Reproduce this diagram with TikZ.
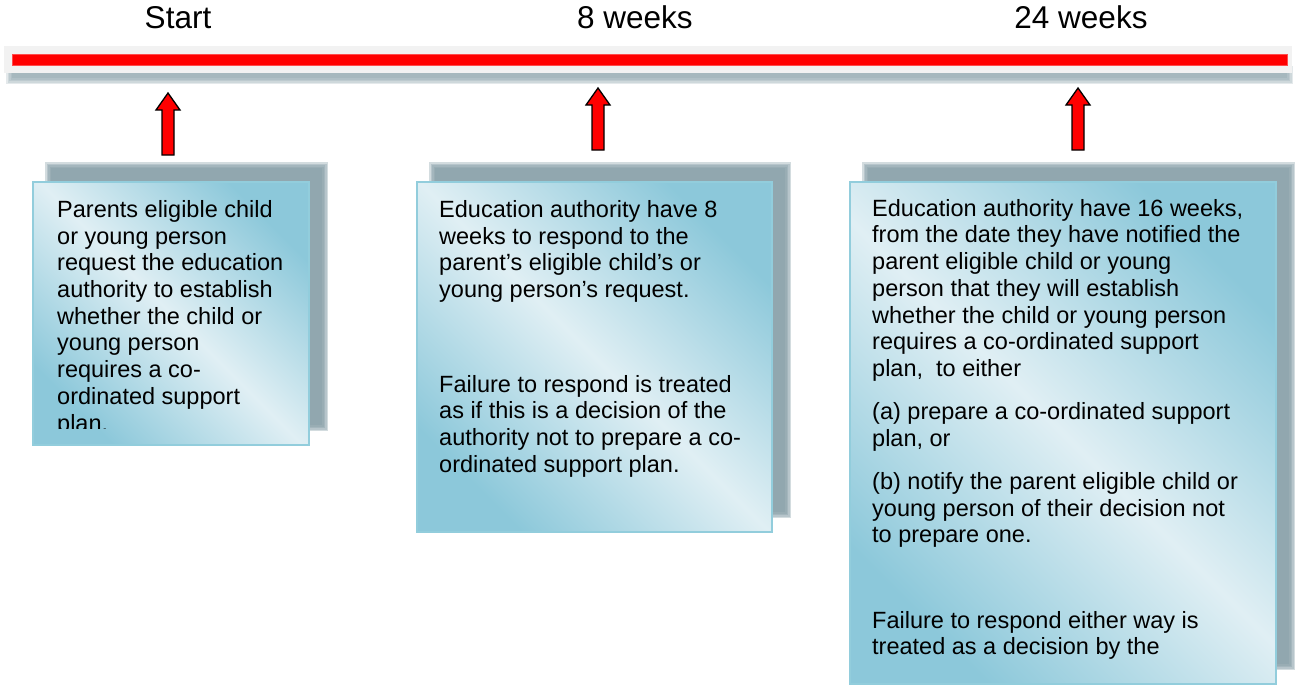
\documentclass[tikz,border=0pt]{standalone}
\usepackage{fontspec}
\setmainfont{Liberation Sans}
\definecolor{barred}{RGB}{255,0,0}
\definecolor{stripgray}{RGB}{242,242,242}
\definecolor{shadowc}{RGB}{130,155,164}
\definecolor{boxdark}{RGB}{140,200,218}
\definecolor{boxlight}{RGB}{224,239,244}
\definecolor{boxline}{RGB}{146,205,220}
\tikzset{
  headtext/.style={font=\fontsize{31.5}{36}\selectfont, anchor=base, inner sep=0pt},
  bodytext/.style={font=\fontsize{23.5}{26.7}\selectfont, align=left, anchor=north west, inner sep=0pt},
  upblock/.style={fill=barred, draw=black, line width=1.3pt, line join=miter}
}
\begin{document}
\begin{tikzpicture}[x=1pt, y=-1pt]
\useasboundingbox (0,0) rectangle (1295,686);
% time line
\foreach \s in {0,1.5,...,6} \fill[shadowc, opacity=0.22] ({6+\s},{66+\s}) rectangle ({1293-\s},{84-\s});
\fill[stripgray] (4,46) rectangle (1292,73);
\fill[barred] (12,54) rectangle (1287,65); \draw[barred!70, line width=0.8pt] (12,54) rectangle (1287,65);
\node[headtext] (start) at (178,28) {Start};
\node[headtext] (wk8) at (635,28) {8 weeks};
\node[headtext] (wk24) at (1081,28) {24 weeks};
% block arrows
\foreach \ax/\at/\ab in {168/93/155, 598/88/150, 1078/88/150}
  \draw[upblock] ({\ax-6},\ab) -- ({\ax-6},{\at+17}) -- ({\ax-12},{\at+17}) -- (\ax,\at) -- ({\ax+12},{\at+17}) -- ({\ax+6},{\at+17}) -- ({\ax+6},\ab) -- cycle;
% boxes with shadows
\foreach \l/\t/\r/\b in {33/182/309/445, 417/182/772/532, 850/182/1276/684}{
  \foreach \s in {0,1.5,...,6} \fill[shadowc, opacity=0.35] ({\l+12+\s},{\t-20+\s}) rectangle ({\r+19-\s},{\b-14-\s});
  \shade[left color=boxdark, right color=boxdark, middle color=boxlight, shading angle=-45] (\l,\t) rectangle (\r,\b);
  \draw[boxline, line width=1.5pt] (\l,\t) rectangle (\r,\b);
}
\begin{scope}
\clip (33,182) rectangle (309,428);
\node[bodytext] (req) at (57,198.6) {\strut Parents eligible child\\or young person\\request the education\\authority to establish\\whether the child or\\young person\\requires a co-\\ordinated support\\plan.};
\end{scope}
\node[bodytext] (resp) at (439,198.6) {\strut Education authority have 8\\weeks to respond to the\\parent’s eligible child’s or\\young person’s request.\\[67.9pt]Failure to respond is treated\\as if this is a decision of the\\authority not to prepare a co-\\ordinated support plan.};
\node[bodytext] (plan) at (872,197.3) {\strut Education authority have 16 weeks,\\from the date they have notified the\\parent eligible child or young\\person that they will establish\\whether the child or young person\\requires a co-ordinated support\\plan,~ to either\\[16.4pt](a) prepare a co-ordinated support\\plan, or\\[16.4pt](b) notify the parent eligible child or\\young person of their decision not\\to prepare one.\\[58.6pt]Failure to respond either way is\\treated as a decision by the};
\end{tikzpicture}
\end{document}
